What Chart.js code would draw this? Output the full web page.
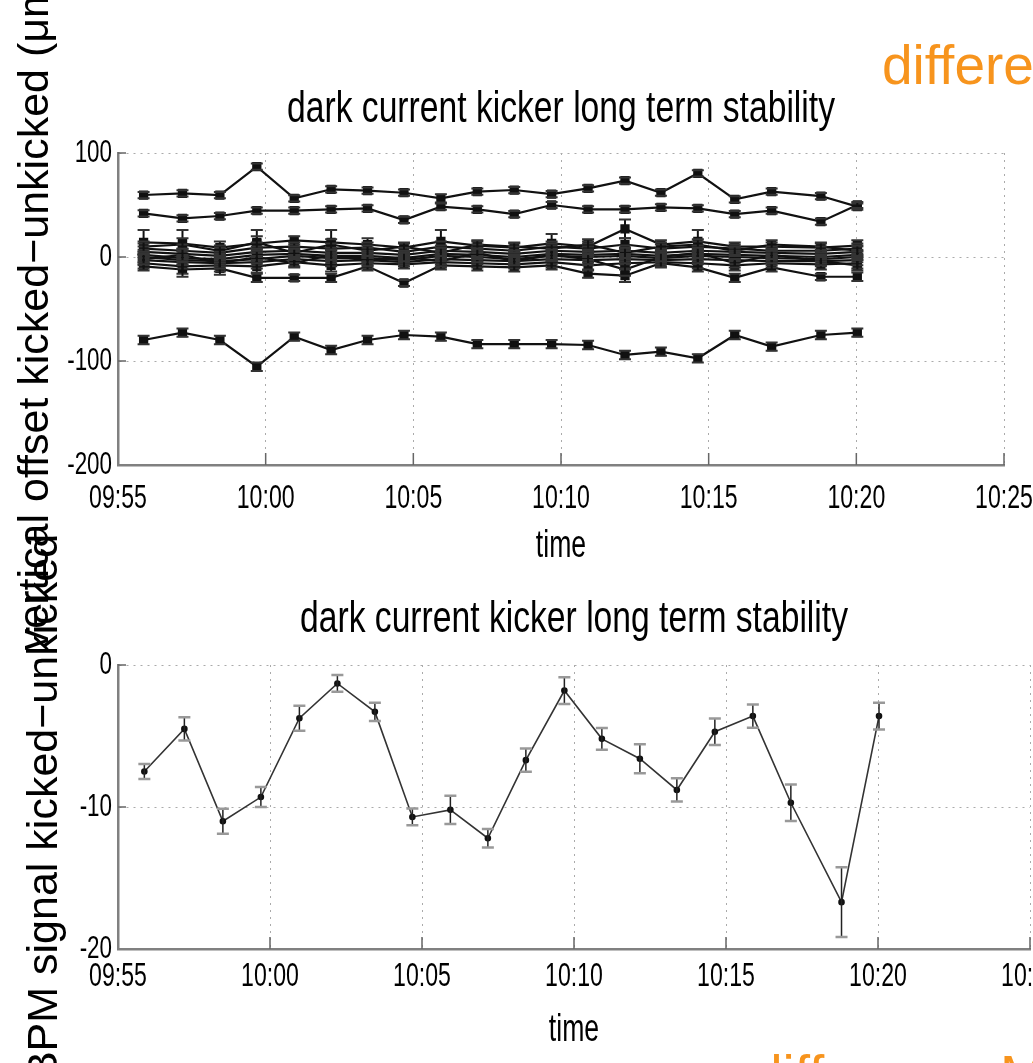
<!DOCTYPE html>
<html><head><meta charset="utf-8">
<script src="https://cdn.jsdelivr.net/npm/chart.js@4.4.1/dist/chart.umd.min.js"></script>
<style>
html,body{margin:0;padding:0;background:#fff;width:1033px;height:1063px;overflow:hidden;position:relative;}
canvas{position:absolute;left:0;}
#c1{top:0}
#c2{top:500px}
.orange{position:absolute;color:#f7941d;font-family:'Liberation Sans',Arial,sans-serif;font-size:55px;line-height:55px;white-space:nowrap;}
</style></head><body>
<div class="orange" style="left:882px;top:38px">differences</div>
<div class="orange" style="left:752px;top:1048px">difference</div>
<div class="orange" style="left:1000px;top:1048px">M</div>
<canvas id="c1" width="1122" height="680"></canvas>
<canvas id="c2" width="1148" height="563"></canvas>
<script>
// ---------- data ----------
const chartTitle = "dark current kicker long term stability";
const xTitle = "time";
const topYTitle = "vertical offset kicked\u2212unkicked (\u03bcm)";
const bottomYTitle = "BPM signal kicked\u2212unkicked";
const xTickLabels = ["09:55","10:00","10:05","10:10","10:15","10:20","10:25"];
const startTime = "09:55:00";
const times = ["09:55:52","09:57:11","09:58:27","09:59:42","10:00:58","10:02:13","10:03:27","10:04:41","10:05:56","10:07:10",
               "10:08:25","10:09:41","10:10:55","10:12:10","10:13:23","10:14:38","10:15:53","10:17:08","10:18:48","10:20:02"];
const topYTicks = [-200,-100,0,100];
const bottomYTicks = [-20,-10,0];

// top panel: one row per BPM
const bpmA = [59.6,61.2,59.6,86.8,56.4,65.1,63.8,61.8,56.4,62.8,64.4,60.4,66.0,73.4,61.8,80.5,55.5,62.8,58.6,48.4];
const errA = [3,3,3,3,3,3,3,3,4,3,3,3,3,3,3,3,3,3,3,3];
const bpmB = [42.0,37.2,39.4,44.5,44.5,45.8,46.8,35.6,48.4,45.8,41.3,50.0,45.8,45.8,47.8,46.8,41.3,44.5,34.0,50.0];
const errB = [3,3,3,3,3,3,3,3,3,3,3,3,3,3,3,3,3,3,3,3];
const bpmC = [-79.8,-72.8,-79.8,-105.5,-76.6,-89.4,-79.8,-75.0,-76.6,-83.7,-83.7,-83.7,-84.6,-94.2,-91.0,-97.4,-75.0,-86.2,-75.0,-72.8];
const errC = [4,4,4,4,4,4,4,4,4,4,4,4,4,4,4,4,4,4,4,4];
const bpmD1 = [14,13,9,13,16,14,12,9,15,11,9,13,10,27,12,15,10,10,9,11];
const errD1 = [12,13,6,13,4,12,6,4,11,4,4,9,5,9,4,11,4,4,4,5];
const bpmD2 = [8,6,4,9,10,8,9,5,10,8,6,10,8,12,8,10,8,6,6,8];
const errD2 = [5,6,5,5,4,5,5,4,5,4,4,5,5,6,4,5,4,4,4,5];
const bpmD3 = [5,3,1,5,6,4,4,2,6,5,3,6,5,6,4,6,5,4,3,5];
const errD3 = [5,5,4,5,4,5,5,4,5,4,4,5,5,5,4,5,4,4,4,5];
const bpmD4 = [2,-1,-2,2,3,1,1,-1,3,2,0,3,2,3,1,3,2,1,0,2];
const errD4 = [5,6,5,6,4,5,5,4,5,4,4,5,5,5,4,5,4,4,4,5];
const bpmD5 = [0,-3,-4,-2,1,-1,-1,-3,1,0,-2,1,0,1,-1,1,0,-1,-2,0];
const errD5 = [5,5,5,6,4,5,5,4,5,4,4,5,5,5,4,5,4,4,4,5];
const bpmD6 = [-3,-5,-6,-5,-2,-4,-3,-5,-2,-3,-4,-2,-3,-2,-3,-2,-3,-4,-4,-3];
const errD6 = [5,6,5,6,4,5,5,4,5,4,4,5,5,5,4,5,4,4,5,5];
const bpmD7 = [-6,-9,-8,-9,-5,-8,-6,-7,-5,-6,-7,-5,-8,-6,-5,-6,-8,-6,-7,-6];
const errD7 = [5,7,6,6,4,6,5,4,5,4,4,5,5,5,4,5,5,4,5,5];
const bpmD8 = [-9,-12,-11,-20,-20,-20,-9,-25,-8,-9,-10,-8,-16,-18,-6,-10,-20,-10,-19,-19];
const errD8 = [4,7,6,4,3,4,4,3,4,4,4,4,4,6,4,4,4,4,3,4];
const bpmD9 = [10,12,6,14,4,12,6,10,4,12,10,8,12,4,10,12,6,12,10,6];
const errD9 = [5,6,5,6,4,5,5,4,5,4,4,5,5,5,4,5,4,4,4,5];
const bpmD10 = [-2,2,-6,0,-6,2,-4,0,-4,4,-4,2,-2,-12,0,4,-6,2,-4,-8];
const errD10 = [5,6,5,6,4,5,5,4,5,4,4,5,5,6,4,5,4,4,4,5];

// bottom panel
const pmtSignal = [-7.5,-4.5,-11.0,-9.3,-3.75,-1.3,-3.3,-10.7,-10.2,-12.2,-6.7,-1.8,-5.2,-6.6,-8.8,-4.7,-3.6,-9.7,-16.7,-3.6];
const pmtError  = [0.53,0.82,0.88,0.7,0.88,0.59,0.65,0.59,1.0,0.65,0.82,0.94,0.76,1.02,0.82,0.94,0.82,1.29,2.46,0.94];

// ---------- helpers ----------
function toMin(t){const p=t.split(':').map(Number);return p[0]*60+p[1]+(p[2]||0)/60;}
const t0 = toMin(startTime);
const xs = times.map(t => toMin(t) - t0);
function pts(vals){return vals.map((v,i)=>({x:xs[i], y:v}));}

const REG = "'Liberation Sans',Arial,sans-serif";

const errorBars = {
  id:'errorBars',
  afterDatasetsDraw(chart){
    const {ctx, scales:{x,y}} = chart;
    chart.data.datasets.forEach((ds)=>{
      if(!ds.errors) return;
      ctx.save();
      ds.data.forEach((p,j)=>{
        const e = ds.errors[j];
        const px = x.getPixelForValue(p.x);
        const yt = y.getPixelForValue(p.y+e), yb = y.getPixelForValue(p.y-e);
        ctx.lineWidth = ds.errWidth || 1.5;
        ctx.strokeStyle = ds.errColor || '#222';
        ctx.beginPath(); ctx.moveTo(px,yt); ctx.lineTo(px,yb); ctx.stroke();
        ctx.strokeStyle = ds.capColor || '#777';
        ctx.lineWidth = ds.capWidth || 2;
        const w = ds.capHalf || 6;
        ctx.beginPath(); ctx.moveTo(px-w,yt); ctx.lineTo(px+w,yt); ctx.moveTo(px-w,yb); ctx.lineTo(px+w,yb); ctx.stroke();
      });
      ctx.restore();
    });
  }
};
const innerTicks = {
  id:'innerTicks',
  afterDraw(chart){
    const {ctx, scales:{x,y}} = chart;
    ctx.save(); ctx.strokeStyle='#666'; ctx.lineWidth=1.5; ctx.beginPath();
    x.ticks.forEach((t,i)=>{ if(i===0) return; const px=x.getPixelForValue(t.value); ctx.moveTo(px,y.bottom); ctx.lineTo(px,y.bottom-12); });
    y.ticks.forEach((t,i)=>{ if(i===0) return; const py=y.getPixelForValue(t.value); ctx.moveTo(x.left,py); ctx.lineTo(x.left+8,py); });
    ctx.stroke(); ctx.restore();
  }
};
// narrow the title box so the library's title text is fitted to the original width
const titleWidth = {
  id:'titleWidth',
  afterLayout(chart, args, opts){
    const tb = chart.titleBlock; if(!tb) return;
    tb.left = opts.center - opts.width/2; tb.right = opts.center + opts.width/2;
    tb.width = opts.width;
  }
};
// condensed look of the axis tick labels and x-axis title (horizontal squeeze of the library's text)
function squeezed(fn, ctxGetter, factor){
  return function(...a){
    const ctx = ctxGetter(this); const orig = ctx.fillText;
    ctx.fillText = function(t, x, y){ const w = this.measureText(t).width; return orig.call(this, t, x, y, w*factor); };
    try { return fn.apply(this, a); } finally { ctx.fillText = orig; }
  };
}
const condense = {
  id:'condense',
  afterLayout(chart, args, opts){
    ['x','y'].forEach(id=>{
      const s = chart.scales[id];
      if(!s || s._condensed) return;
      s._condensed = true;
      const proto = Object.getPrototypeOf(s);
      s.drawLabels = squeezed(proto.drawLabels, sc=>sc.ctx, opts.factor);
      if(id==='x') s.drawTitle = squeezed(proto.drawTitle, sc=>sc.ctx, opts.factor);
    });
  }
};

function makeOptions(cfg){
  return {
    responsive:false, animation:false, devicePixelRatio:1,
    layout:{padding:{left:0,right:118,top:0,bottom:cfg.padBottom}},
    plugins:{
      legend:{display:false}, tooltip:{enabled:false},
      title:{display:true, text:chartTitle, color:'#000', font:{family:REG,size:44,weight:'normal',lineHeight:1.2},
             padding:{top:cfg.titleTop,bottom:cfg.titleBottom}},
      titleWidth:{center:cfg.titleCenter, width:548},
      condense:{factor:0.7}
    },
    scales:{
      x:{type:'linear', min:0, max:30,
         afterFit(s){ s.height = 110; },
         ticks:{stepSize:5, color:'#000', padding:cfg.xTickPad, maxRotation:0, autoSkip:false,
                font:{family:REG,size:33,lineHeight:1.2}, callback:(v,i)=>xTickLabels[i]},
         grid:{color:'#aaaaaa', lineWidth:1, drawTicks:false},
         border:{display:true, color:'#808080', width:2.5, dash:[2,5]},
         title:{display:true, text:xTitle, color:'#000', font:{family:REG,size:38,lineHeight:1.2}, padding:{top:0,bottom:cfg.xTitleBottom}}
      },
      y:{type:'linear', min:cfg.ymin, max:cfg.ymax,
         afterFit(s){ s.width = 118; },
         afterBuildTicks(s){ s.ticks = cfg.yTicks.map(v=>({value:v})); },
         ticks:{color:'#000', padding:6, font:{family:REG,size:32}},
         grid:{color:'#aaaaaa', lineWidth:1, drawTicks:false},
         border:{display:true, color:'#808080', width:2.5, dash:[2,5]},
         title:{display:true, text:cfg.yTitle, color:'#000', font:{family:REG,size:43}, padding:{top:cfg.yTitleTop,bottom:0}}
      }
    }
  };
}

function line(vals, errs, extra){
  return Object.assign({data:pts(vals), errors:errs, borderColor:'#111', borderWidth:2.2,
    pointStyle:'rect', pointRadius:5, pointBackgroundColor:'#111', pointBorderColor:'#111',
    errColor:'#111', errWidth:2, capColor:'#333', capWidth:2, capHalf:6, tension:0}, extra||{});
}

new Chart(document.getElementById('c1'), {
  type:'line',
  data:{datasets:[
    line(bpmA,errA), line(bpmB,errB), line(bpmC,errC),
    line(bpmD1,errD1), line(bpmD2,errD2), line(bpmD3,errD3), line(bpmD4,errD4), line(bpmD5,errD5),
    line(bpmD6,errD6), line(bpmD7,errD7), line(bpmD8,errD8), line(bpmD9,errD9), line(bpmD10,errD10)
  ]},
  options:makeOptions({padBottom:105, titleTop:83.6, titleBottom:16.6, titleCenter:561, xTickPad:14, xTitleBottom:6,
    ymin:-200, ymax:100, yTicks:topYTicks, yTitle:topYTitle, yTitleTop:10}),
  plugins:[errorBars, innerTicks, titleWidth, condense]
});

new Chart(document.getElementById('c2'), {
  type:'line',
  data:{datasets:[
    line(pmtSignal, pmtError, {borderColor:'#333', borderWidth:1.6, pointStyle:'circle', pointRadius:2.5,
      errColor:'#222', errWidth:1.5, capColor:'#999', capWidth:2.5, capHalf:6})
  ]},
  options:makeOptions({padBottom:4, titleTop:93.6, titleBottom:18.6, titleCenter:574, xTickPad:8, xTitleBottom:6,
    ymin:-20, ymax:0, yTicks:bottomYTicks, yTitle:bottomYTitle, yTitleTop:19}),
  plugins:[errorBars, innerTicks, titleWidth, condense]
});
</script>
</body></html>
